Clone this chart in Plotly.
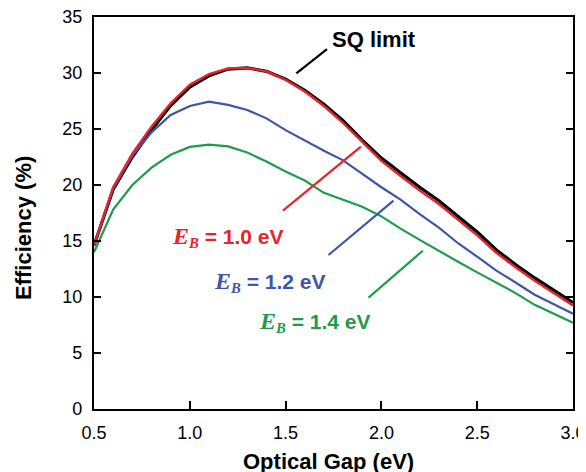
import plotly.graph_objects as go

# ---- data ----
gap_ev = [0.5, 0.6, 0.7, 0.8, 0.9, 1.0, 1.1, 1.2, 1.3, 1.4, 1.5, 1.6, 1.7,
          1.8, 1.9, 2.0, 2.1, 2.2, 2.3, 2.4, 2.5, 2.6, 2.7, 2.8, 2.9, 3.0]

sq_limit = [14.6, 19.6, 22.5, 24.9, 27.1, 28.75, 29.75, 30.35, 30.45, 30.15,
            29.45, 28.45, 27.2, 25.75, 24.0, 22.4, 21.1, 19.8, 18.6, 17.2,
            15.8, 14.2, 12.9, 11.7, 10.6, 9.5]

eb_10 = [14.6, 19.8, 22.8, 25.2, 27.3, 28.95, 29.9, 30.4, 30.45, 30.15,
         29.4, 28.35, 27.05, 25.55, 23.85, 22.15, 20.8, 19.5, 18.3, 16.9,
         15.5, 13.95, 12.65, 11.45, 10.35, 9.25]

eb_12 = [14.6, 19.7, 22.6, 24.7, 26.25, 27.05, 27.45, 27.15, 26.7, 25.95,
         24.9, 23.95, 23.05, 22.2, 21.0, 19.8, 18.7, 17.4, 16.2, 14.8,
         13.6, 12.35, 11.3, 10.2, 9.35, 8.5]

eb_14 = [14.0, 17.8, 20.0, 21.55, 22.7, 23.4, 23.6, 23.45, 22.9, 22.1,
         21.2, 20.4, 19.3, 18.66, 18.05, 17.2, 16.1, 15.1, 14.1, 13.15,
         12.2, 11.3, 10.35, 9.3, 8.5, 7.7]

x_ticks = [0.5, 1.0, 1.5, 2.0, 2.5, 3.0]
x_tick_labels = ["0.5", "1.0", "1.5", "2.0", "2.5", "3.0"]
y_ticks = [0, 5, 10, 15, 20, 25, 30, 35]
y_tick_labels = ["0", "5", "10", "15", "20", "25", "30", "35"]

series_names = ["SQ limit", "E_B = 1.0 eV", "E_B = 1.2 eV", "E_B = 1.4 eV"]
eb_values = ["1.0", "1.2", "1.4"]

# ---- styling ----
BLACK = "#000000"
RED = "#e8232b"
BLUE = "#3d56a6"
GREEN = "#1e9b4b"
SANS = "Liberation Sans, Arial, Helvetica, sans-serif"

fig = go.Figure()

for ys, name, color, width in [
    (sq_limit, series_names[0], BLACK, 3.2),
    (eb_12, series_names[2], BLUE, 2.2),
    (eb_14, series_names[3], GREEN, 2.2),
    (eb_10, series_names[1], RED, 2.4),
]:
    fig.add_trace(go.Scatter(x=gap_ev, y=ys, mode="lines", name=name,
                             line=dict(color=color, width=width),
                             showlegend=False))

# leader lines (data coordinates)
leaders = [
    ((1.556, 29.97), (1.716, 32.14), BLACK),
    ((1.486, 17.71), (1.893, 23.42), RED),
    ((1.724, 13.75), (2.063, 18.60), BLUE),
    ((1.933, 9.94), (2.216, 14.13), GREEN),
]
for (x0, y0), (x1, y1), c in leaders:
    fig.add_shape(type="line", xref="x", yref="y", x0=x0, y0=y0, x1=x1, y1=y1,
                  line=dict(color=c, width=2.2))

fig.add_annotation(x=1.733, y=33.0, xref="x", yref="y", xanchor="left",
                   yanchor="middle", showarrow=False,
                   text="<b>SQ limit</b>",
                   font=dict(family=SANS, size=22, color=BLACK))

label_pos = [(1.199, 15.38, RED), (1.415, 11.37, BLUE), (1.652, 7.77, GREEN)]
for v, (lx, ly, c) in zip(eb_values, label_pos):
    txt = ("<span style=\"font-family:'Liberation Serif',serif;font-size:24px\">"
           "<b><i>E</i></b></span>"
           "<span style=\"font-family:'Liberation Serif',serif\">"
           "<sub><b><i>B</i></b></sub></span><b> = " + v + " eV</b>")
    fig.add_annotation(x=lx, y=ly, xref="x", yref="y", xanchor="center",
                       yanchor="middle", showarrow=False, text=txt,
                       font=dict(family=SANS, size=21, color=c))

# axis titles as annotations
fig.add_annotation(x=0.49, y=-0.133, xref="paper", yref="paper",
                   xanchor="center", yanchor="middle", showarrow=False,
                   text="<b>Optical Gap (eV)</b>",
                   font=dict(family=SANS, size=22, color=BLACK))
fig.add_annotation(x=-0.146, y=0.462, xref="paper", yref="paper",
                   xanchor="center", yanchor="middle", showarrow=False,
                   textangle=-90, text="<b>Efficiency (%)</b>",
                   font=dict(family=SANS, size=22, color=BLACK))

fig.update_xaxes(range=[0.5, 3.0], tickvals=x_ticks, ticktext=x_tick_labels,
                 ticks="inside", ticklen=8, tickwidth=1.8, tickcolor=BLACK,
                 showline=True, linecolor=BLACK, linewidth=2.2, mirror=True,
                 showgrid=False, zeroline=False, automargin=False,
                 ticklabeloverflow="allow",
                 tickfont=dict(family=SANS, size=18, color=BLACK),
                 ticklabelstandoff=6)
fig.update_yaxes(range=[0, 35], tickvals=y_ticks, ticktext=y_tick_labels,
                 ticks="inside", ticklen=7, tickwidth=1.8, tickcolor=BLACK,
                 showline=True, linecolor=BLACK, linewidth=2.2, mirror="ticks",
                 showgrid=False, zeroline=False, automargin=False,
                 ticklabeloverflow="allow",
                 tickfont=dict(family=SANS, size=18, color=BLACK),
                 ticklabelstandoff=6)

# the page body adds an 8px offset; margins compensate so the plot area
# lands where it is in the reference
fig.update_layout(width=586, height=472, autosize=False,
                  margin=dict(l=86, r=21, t=9, b=71, pad=0, autoexpand=False),
                  plot_bgcolor="white", paper_bgcolor="white",
                  showlegend=False)

fig.write_html("out.html")
